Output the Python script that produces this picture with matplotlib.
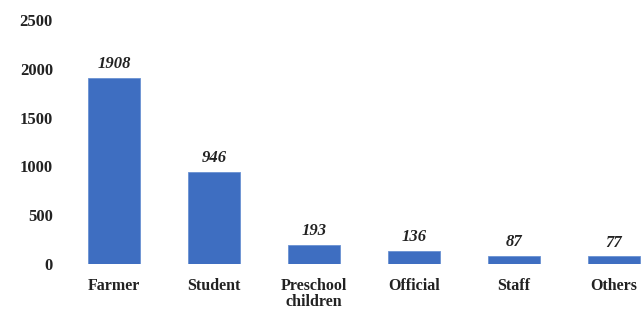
import matplotlib
matplotlib.use("Agg")
import matplotlib.pyplot as plt

categories = ["Farmer", "Student", "Preschool\nchildren", "Official", "Staff", "Others"]
counts = [1908, 946, 193, 136, 87, 77]
yticks = [0, 500, 1000, 1500, 2000, 2500]

plt.rcParams["font.family"] = ["Liberation Serif", "DejaVu Serif"]

fig = plt.figure(figsize=(6.44, 3.11), dpi=100)
ax = fig.add_axes([64 / 644, 47 / 311, 1 - 64 / 644, 244 / 311])

x = range(len(categories))
ax.bar(x, counts, width=0.52, color="#3e6ec1", edgecolor="#6a92d2", lw=0.6)
for i, v in zip(x, counts):
    ax.text(i, v + 60, str(v), ha="center", va="bottom", fontsize=12,
            fontweight="bold", style="italic", color="#222222")

ax.set_xlim(-0.5, 5.3)
ax.set_ylim(0, 2500)
ax.set_yticks(yticks)
ax.set_xticks(list(x))
ax.set_xticklabels(categories, fontsize=11.5, fontweight="bold", color="#222222",
                   linespacing=1.0, va="top")
for lbl in ax.get_yticklabels():
    lbl.set_fontsize(12)
    lbl.set_fontweight("bold")
    lbl.set_color("#222222")
ax.tick_params(length=0, axis="y", pad=8)
ax.tick_params(length=0, axis="x", pad=10)
for s in ax.spines.values():
    s.set_visible(False)

fig.savefig("out.png", dpi=100)
